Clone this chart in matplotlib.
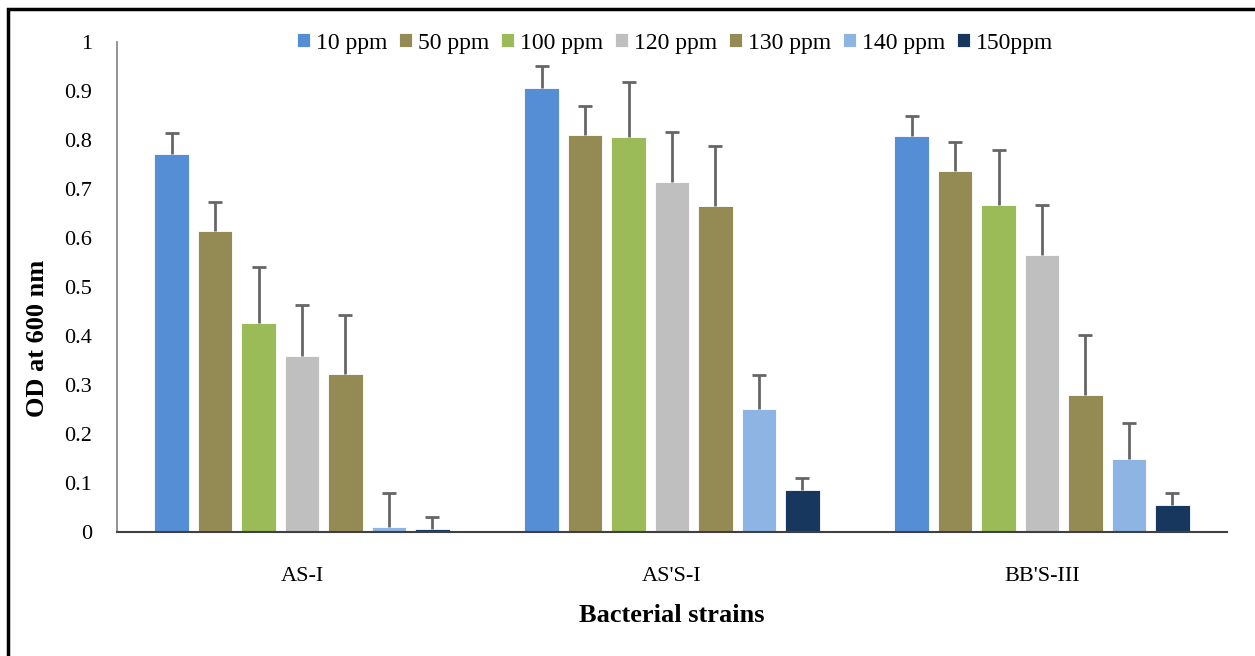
import matplotlib
matplotlib.use("Agg")
import matplotlib.pyplot as plt
import numpy as np
from matplotlib.patches import Rectangle

plt.rcParams['font.family'] = ['Liberation Serif', 'DejaVu Serif']

strains = ["AS-I", "AS'S-I", "BB'S-III"]
series_labels = ["10 ppm", "50 ppm", "100 ppm", "120 ppm", "130 ppm", "140 ppm", "150ppm"]
colors = ["#558ED5", "#948A54", "#9BBB59", "#BFBFBF", "#948A54", "#8EB4E3", "#17375E"]

# values per series across strains (AS-I, AS'S-I, BB'S-III)
v10 = [0.772, 0.907, 0.808]
v50 = [0.615, 0.810, 0.737]
v100 = [0.427, 0.807, 0.667]
v120 = [0.359, 0.714, 0.565]
v130 = [0.322, 0.665, 0.280]
v140 = [0.011, 0.251, 0.150]
v150 = [0.006, 0.086, 0.056]

e10 = [0.042, 0.044, 0.041]
e50 = [0.058, 0.059, 0.058]
e100 = [0.113, 0.111, 0.112]
e120 = [0.105, 0.103, 0.102]
e130 = [0.121, 0.123, 0.123]
e140 = [0.069, 0.069, 0.072]
e150 = [0.025, 0.025, 0.023]

values = [v10, v50, v100, v120, v130, v140, v150]
errors = [e10, e50, e100, e120, e130, e140, e150]

W, H = 1255, 656
fig = plt.figure(figsize=(W / 100, H / 100), dpi=100)
ax = fig.add_axes([117 / W, 1 - 532 / H, (1227 - 117) / W, (532 - 42) / H])

x = np.arange(len(strains))
pitch = 0.1174
width = 0.0935
n = len(values)
for i, (vals, errs) in enumerate(zip(values, errors)):
    pos = x + (i - (n - 1) / 2) * pitch
    ax.bar(pos, vals, width=width, color=colors[i], edgecolor='white', linewidth=0.6,
           label=series_labels[i], zorder=2)
    eb = ax.errorbar(pos, vals, yerr=[np.zeros(len(errs)), errs], fmt='none', ecolor='#666666',
                     elinewidth=2, capsize=5, capthick=2, zorder=3)
    # hide the lower caps (only upper error shown)
    if len(eb[1]) == 2:
        eb[1][0].set_visible(False)

ax.set_xlim(-0.5, 2.5)
ax.set_ylim(0, 1)
ax.set_yticks(np.arange(0, 1.01, 0.1))
ax.set_yticklabels(["0", "0.1", "0.2", "0.3", "0.4", "0.5", "0.6", "0.7", "0.8", "0.9", "1"])
ax.set_xticks(x)
ax.set_xticklabels(strains)
ax.tick_params(axis='y', length=0, pad=18, labelsize=16)
ax.tick_params(axis='x', length=0, pad=25, labelsize=16)

for s in ['top', 'right']:
    ax.spines[s].set_visible(False)
ax.spines['left'].set_color('#808080')
ax.spines['left'].set_linewidth(1.2)
ax.spines['bottom'].set_color('#404040')
ax.spines['bottom'].set_linewidth(1.5)

fig.text(38 / W, 1 - 338 / H, "OD at 600 nm", rotation=90, ha='center', va='center',
         fontsize=19, fontweight='bold')
fig.text(672 / W, 1 - 615 / H, "Bacterial strains", ha='center', va='center',
         fontsize=19, fontweight='bold')

handles, labels = ax.get_legend_handles_labels()
fig.legend(handles, labels, loc='center', bbox_to_anchor=(675 / W, 1 - 43 / H), ncol=7,
           frameon=False, fontsize=17, handlelength=0.55, handleheight=0.55,
           handletextpad=0.25, columnspacing=0.5, borderaxespad=0)

# outer frame
fig.patches.append(Rectangle((8 / W, -0.1), 1.2, 1 - 9 / H + 0.1, transform=fig.transFigure,
                             fill=False, edgecolor='black', linewidth=2.5))

fig.savefig("out.png", dpi=100)
